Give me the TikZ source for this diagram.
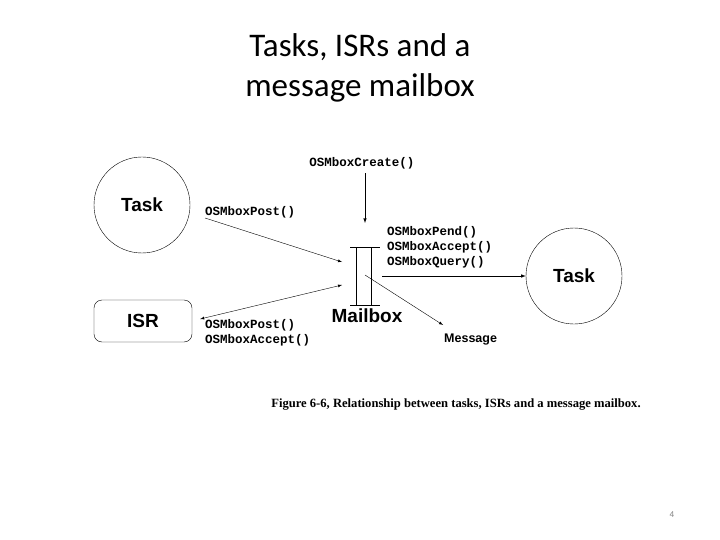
\documentclass[tikz,border=0pt]{standalone}
\usepackage{fontspec}
\setmainfont{Carlito}
\newfontfamily\armono{Liberation Mono}
\newfontfamily\arsans{Liberation Sans}
\newfontfamily\arserif{Liberation Serif}
\usetikzlibrary{positioning}
\tikzset{
  fn/.style={font=\armono\bfseries\fontsize{12.5}{15}\selectfont, inner sep=0pt, anchor=west},
  lbl/.style={font=\arsans\bfseries\fontsize{19}{21}\selectfont},
  thin arrow/.style={-latex, thin},
}
\begin{document}
\begin{tikzpicture}[x=1pt,y=-1pt]
\useasboundingbox (0,0) rectangle (720,540);
\node[align=center, font=\fontsize{33}{40}\selectfont] (title) at (360,68) {Tasks, ISRs and a\\message mailbox};
% objects
\node[draw, circle, minimum size=96pt, lbl] (task1) at (142,205) {Task};
\node[draw, rounded corners=8pt, minimum width=98pt, minimum height=42pt, lbl] (isr) at (143,321) {ISR};
\node[draw, circle, minimum size=96pt, lbl] (task2) at (574,276) {Task};
% mailbox
\draw (350,247) -- (380,247) (350,305) -- (380,305);
\draw (356,247) -- (356,305) (371,247) -- (371,305);
\coordinate (mbin) at (342,262);
\coordinate (mbisr) at (342,285);
\coordinate (mbout) at (382,276);
\coordinate (mbmsg) at (365,275);
\node[lbl, inner sep=0pt] (mbox) at (367,316) {Mailbox};
\node[font=\arsans\bfseries\fontsize{12.5}{14}\selectfont, anchor=west, inner sep=0pt] (msg) at (444,340) {Message};
\coordinate (msgtip) at (443,325);
% calls
\node[fn, anchor=center] (create) at (362,163) {OSMboxCreate()};
\coordinate (createtip) at (365,223);
\draw[-latex, semithick] (create.south -| createtip) ++(0,4) -- (createtip);
\node[fn] (post1) at (205,212) {OSMboxPost()};
\draw[thin arrow] (205,218) -- (mbin);
\draw[latex-latex, thin] (isr.east) ++(8,-2) -- (mbisr);
\node[fn, align=left] (post2) at (205,333) {OSMboxPost()\\OSMboxAccept()};
\node[fn, align=left] (pend) at (387,247) {OSMboxPend()\\OSMboxAccept()\\OSMboxQuery()};
\draw[-latex, semithick] (mbout) -- (task2.west);
\draw[thin arrow] (mbmsg) -- (msgtip);
\node[font=\arserif\bfseries\fontsize{12.6}{15}\selectfont] (caption) at (456,405) {Figure 6-6, Relationship between tasks, ISRs and a message mailbox.};
\node[font=\fontsize{9}{10}\selectfont, text=gray] (page) at (672,515) {4};
\end{tikzpicture}
\end{document}
